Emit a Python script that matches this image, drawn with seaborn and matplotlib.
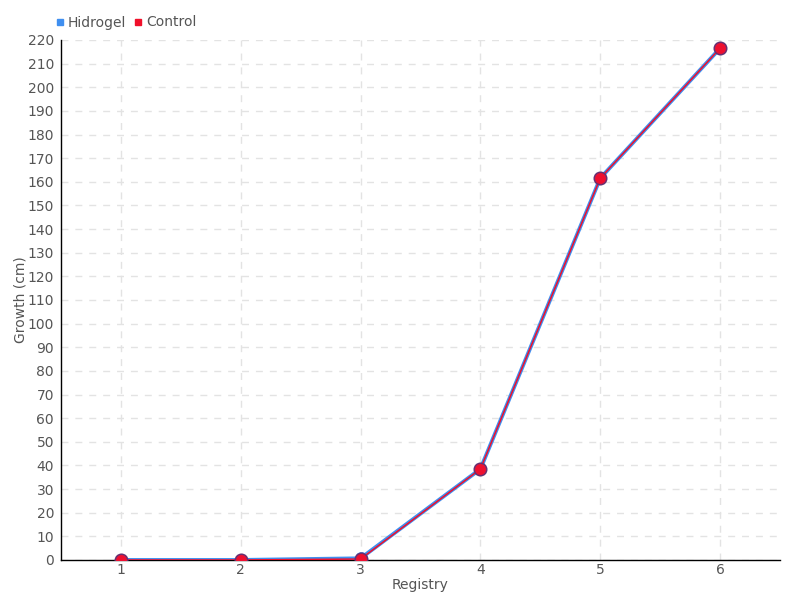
import matplotlib
matplotlib.use("Agg")
import matplotlib.pyplot as plt
import seaborn as sns
import pandas as pd
from matplotlib.lines import Line2D

registry = [1, 2, 3, 4, 5, 6]
hidrogel = [0, 0, 0.7, 38.5, 161.5, 216.5]
control = [0, 0, 0.4, 38.5, 161.5, 216.5]
y_ticks = list(range(0, 230, 10))

sns.set_style("white")
plt.rcParams['font.family'] = ['DejaVu Sans']

fig = plt.figure(figsize=(8, 6), dpi=100)
ax = fig.add_axes([0.07625, 0.0667, 0.89875, 0.8667])

df_h = pd.DataFrame({"Registry": registry, "Growth": hidrogel})
df_c = pd.DataFrame({"Registry": registry, "Growth": control})

sns.lineplot(data=df_h, x="Registry", y="Growth", ax=ax, color="#3f8ff0", linewidth=2.8,
             marker="o", markersize=8.5, markerfacecolor="#3f8ff0", markeredgecolor="#3f8ff0", zorder=3)
sns.lineplot(data=df_c, x="Registry", y="Growth", ax=ax, color="#f0102a", linewidth=1.1,
             marker="o", markersize=9, markerfacecolor="#ee1030", markeredgecolor="#6a3070",
             markeredgewidth=1.1, zorder=4)

ax.set_xlim(0.5, 6.5)
ax.set_ylim(0, 220)
ax.set_xticks(registry)
ax.set_yticks(y_ticks)
ax.grid(True, color="#e3e3e3", linestyle=(0, (5, 5)), linewidth=1)
ax.set_axisbelow(True)
for s in ["top", "right"]:
    ax.spines[s].set_visible(False)
ax.spines["left"].set_color("black")
ax.spines["bottom"].set_color("black")
ax.spines["left"].set_linewidth(1)
ax.spines["bottom"].set_linewidth(1)
ax.tick_params(axis="y", direction="inout", length=6, width=1, colors="#555555", labelsize=10, pad=2)
ax.tick_params(axis="x", direction="out", length=6, width=1, colors="#555555", labelsize=10, pad=-4)
ax.set_xlabel("Registry", color="#555555", fontsize=10, labelpad=1)
ax.set_ylabel("Growth (cm)", color="#555555", fontsize=10)
ax.yaxis.set_label_coords(-0.047, 0.5)

handles = [Line2D([], [], marker="s", linestyle="none", color="#3f8ff0", markersize=5),
           Line2D([], [], marker="s", linestyle="none", color="#f0102a", markersize=5)]
fig.legend(handles, ["Hidrogel", "Control"], loc="upper left", bbox_to_anchor=(0.052, 0.995),
           ncol=2, frameon=False, fontsize=10, handletextpad=0.15, columnspacing=0.5,
           handlelength=0.8, labelcolor="#555555")

fig.savefig("out.png", dpi=100)
